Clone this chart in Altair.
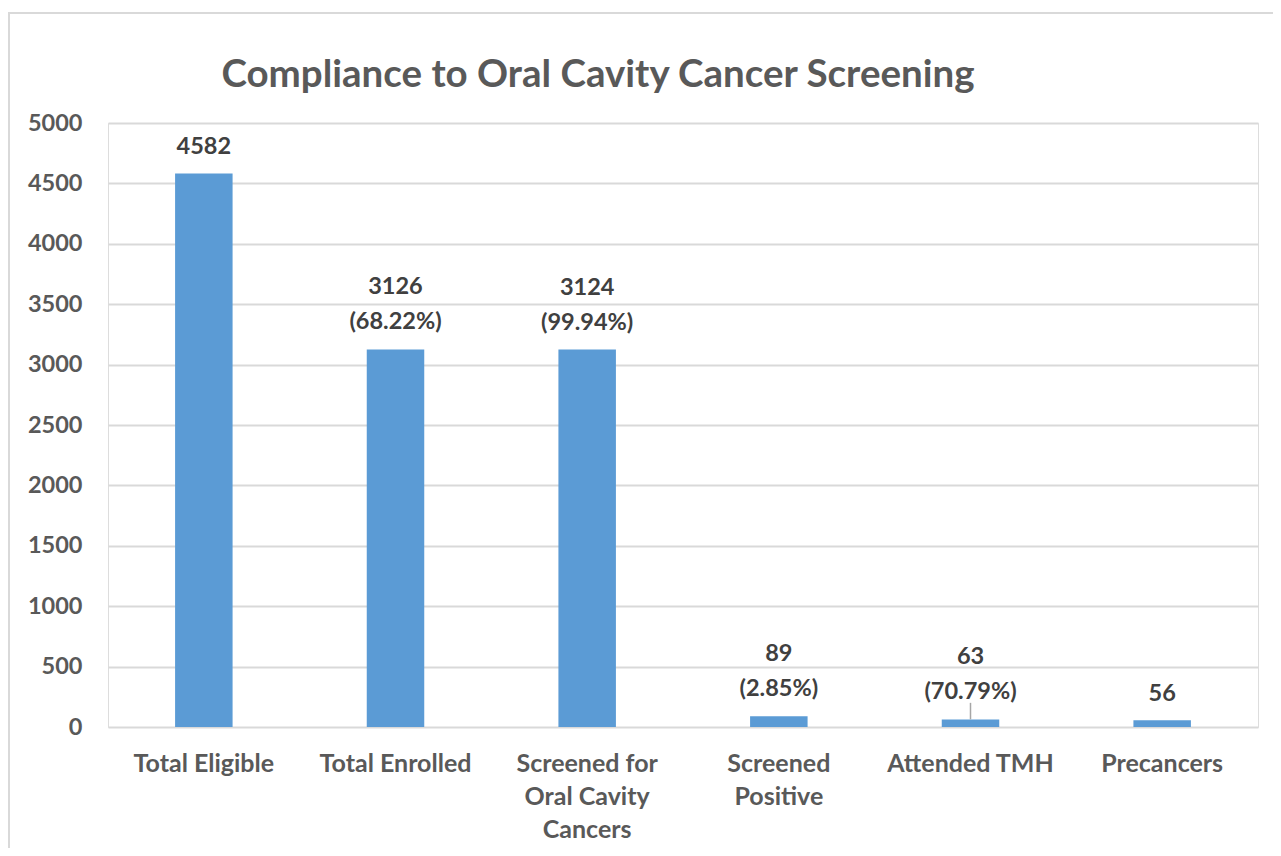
import altair as alt
import pandas as pd

categories = ["Total Eligible", "Total Enrolled", "Screened for|Oral Cavity|Cancers",
              "Screened|Positive", "Attended TMH", "Precancers"]
values = [4582, 3126, 3124, 89, 63, 56]
percents = ["", "(68.22%)", "(99.94%)", "(2.85%)", "(70.79%)", ""]
leader_top = [None, None, None, None, 200, None]

df = pd.DataFrame({"cat": categories, "value": values, "pct": percents,
                   "leader": leader_top})

W, H = 1150, 604
xsort = categories
xenc = alt.X("cat:N", sort=xsort, title=None,
             scale=alt.Scale(paddingInner=0.7, paddingOuter=0.35),
             axis=alt.Axis(labelAngle=0, ticks=False, domain=False, grid=False,
                           labelExpr="split(datum.label, '|')",
                           labelFont="Lato", labelFontSize=25, labelFontWeight="bold",
                           labelColor="#595959", labelLineHeight=33, labelPadding=24,
                           labelLimit=300))
yenc = alt.Y("value:Q", title=None,
             scale=alt.Scale(domain=[0, 5000], nice=False),
             axis=alt.Axis(values=list(range(0, 5001, 500)), format="d",
                           ticks=False, domain=False,
                           grid=True, gridColor="#d9d9d9", gridWidth=2,
                           labelFont="Lato", labelFontSize=23.5, labelFontWeight="bold",
                           labelColor="#595959", labelPadding=26))

base = alt.Chart(df)
bars = base.mark_bar(color="#5B9BD5").encode(x=xenc, y=yenc)

tstyle = dict(baseline="bottom", font="Lato", fontSize=23.5, fontWeight="bold",
              color="#404040")
xs = alt.X("cat:N", sort=xsort)
val_single = base.transform_filter("datum.pct == ''").mark_text(dy=-14, **tstyle).encode(
    x=xs, y="value:Q", text="value:N")
val_double = base.transform_filter("datum.pct != ''").mark_text(dy=-50, **tstyle).encode(
    x=xs, y="value:Q", text="value:N")
pct_text = base.transform_filter("datum.pct != ''").mark_text(dy=-15, **tstyle).encode(
    x=xs, y="value:Q", text="pct:N")

leader = base.transform_filter("datum.leader != null").mark_rule(
    color="#a6a6a6", strokeWidth=1.5).encode(x=xs, y="value:Q", y2="leader:Q")

border = alt.Chart(pd.DataFrame({"a": [0]})).mark_rect(
    fill="transparent", stroke="#d9d9d9", strokeWidth=2).encode(
    x=alt.value(-99), x2=alt.value(1172), y=alt.value(-110), y2=alt.value(900))

chart = alt.layer(border, bars, leader, val_single, val_double, pct_text).properties(
    width=W, height=H,
    autosize=alt.AutoSizeParams(type="none"),
    padding={"left": 100, "top": 115, "right": 15, "bottom": 121},
    title=alt.TitleParams("Compliance to Oral Cavity Cancer Screening",
                          font="Lato", fontSize=38.5, fontWeight="bold",
                          color="#595959", anchor="middle", frame="group",
                          dx=-85, offset=-83),
).configure_view(strokeWidth=0).configure(background="white")

chart.save("out.html", embed_options={"renderer": "svg", "actions": False})
